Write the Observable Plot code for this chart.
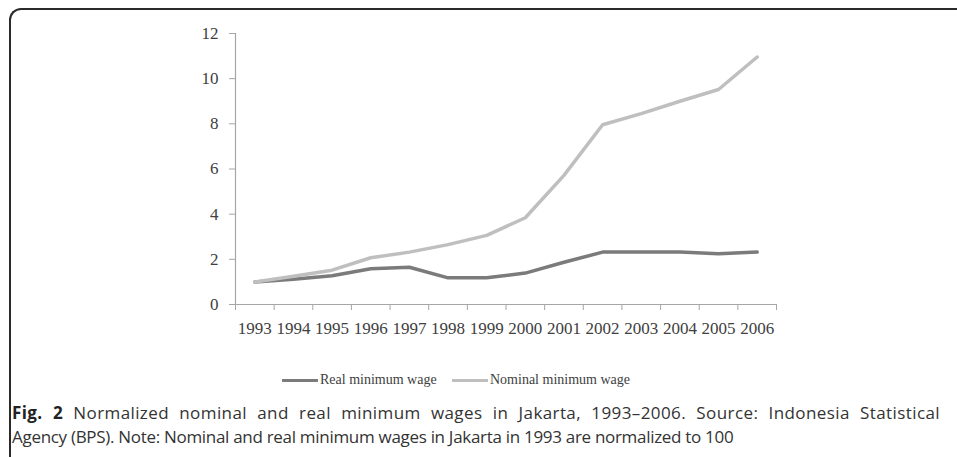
<!DOCTYPE html>
<html>
<head>
<meta charset="utf-8">
<script src="https://cdn.jsdelivr.net/npm/d3@7"></script>
<script src="https://cdn.jsdelivr.net/npm/@observablehq/plot@0.6"></script>
<style>
  html, body { margin: 0; padding: 0; background: #fff; }
  body { width: 957px; height: 457px; position: relative; overflow: hidden; }
  #frame { position: absolute; left: 9px; top: 8px; width: 980px; height: 480px;
           border-top: 2px solid #2a2a2a; border-left: 2px solid #2a2a2a; border-top-left-radius: 12px; box-sizing: border-box; }
  #chart { position: absolute; left: 0; top: 0; }
  #legend { position: absolute; top: 370px; left: 0; width: 957px; height: 20px;
            font-family: "Liberation Serif", serif; font-size: 14px; color: #404040; }
  .item { position: absolute; top: 0; display: flex; align-items: center; height: 20px; white-space: nowrap; }
  .sw { width: 36px; height: 3px; margin-right: 2px; }
  #caption { position: absolute; left: 12px; top: 401px; width: 928px;
             font-family: "Open Sans", sans-serif; font-size: 17px; line-height: 24px; color: #333; }
  #caption .l1 { display: block; text-align: justify; text-align-last: justify; white-space: nowrap; letter-spacing: 0.4px; }
  #caption .l2 { display: block; white-space: nowrap; letter-spacing: -0.3px; }
  #caption b { color: #222; }
</style>
</head>
<body>
<div id="frame"></div>
<div id="chart"></div>
<div id="legend"></div>
<div id="caption"><span class="l1"><b>Fig. 2</b> Normalized nominal and real minimum wages in Jakarta, 1993–2006. Source: Indonesia Statistical</span><span class="l2">Agency (BPS). Note: Nominal and real minimum wages in Jakarta in 1993 are normalized to 100</span></div>
<script>
const years = [1993,1994,1995,1996,1997,1998,1999,2000,2001,2002,2003,2004,2005,2006];
const realWage = [1.00,1.12,1.27,1.58,1.65,1.18,1.18,1.39,1.87,2.32,2.32,2.32,2.25,2.32];
const nominalWage = [1.00,1.25,1.52,2.07,2.32,2.65,3.06,3.84,5.72,7.96,8.45,9.00,9.52,10.96];
const yTicks = [0,2,4,6,8,10,12];
const seriesNames = ["Real minimum wage", "Nominal minimum wage"];
const seriesColors = ["#7b7b7b", "#bfbfbf"];

const rows = [];
years.forEach((y, i) => {
  rows.push({year: y, value: realWage[i], series: seriesNames[0]});
  rows.push({year: y, value: nominalWage[i], series: seriesNames[1]});
});
const boundaries = years.map(y => y - 0.5).concat([years[years.length - 1] + 0.5]);

const axisColor = "#a6a6a6";
const textColor = "#404040";

const chart = Plot.plot({
  width: 957,
  height: 350,
  marginLeft: 235,
  marginRight: 181,
  marginTop: 33,
  marginBottom: 46,
  style: {fontFamily: "Liberation Serif, serif", fontSize: "17px", color: textColor, background: "transparent"},
  x: {domain: [years[0] - 0.5, years[years.length - 1] + 0.5]},
  y: {domain: [0, 12]},
  color: {domain: seriesNames, range: seriesColors},
  marks: [
    Plot.axisY({ticks: yTicks, tickSize: 6, tickPadding: 11, stroke: axisColor, label: null, tickFormat: d => String(d), fill: textColor, fontSize: 17}),
    Plot.axisX({ticks: boundaries, tickSize: 6, tickFormat: () => "", stroke: axisColor, label: null}),
    Plot.axisX({ticks: years, tickSize: 0, tickPadding: 17, tickFormat: d => String(d), label: null, fill: textColor, fontSize: 17}),
    Plot.ruleX([years[0] - 0.5], {stroke: axisColor, strokeWidth: 1.2}),
    Plot.ruleY([0], {stroke: axisColor, strokeWidth: 1.2}),
    Plot.line(rows, {x: "year", y: "value", stroke: "series", z: "series", strokeWidth: 3.5, strokeLinecap: "round", strokeLinejoin: "round"})
  ]
});
document.getElementById("chart").appendChild(chart);

const legend = document.getElementById("legend");
const legendX = [282, 452];
seriesNames.forEach((name, i) => {
  const item = document.createElement("div");
  item.className = "item";
  item.style.left = legendX[i] + "px";
  const sw = document.createElement("div");
  sw.className = "sw";
  sw.style.background = seriesColors[i];
  const t = document.createElement("span");
  t.textContent = name;
  item.appendChild(sw);
  item.appendChild(t);
  legend.appendChild(item);
});
</script>
</body>
</html>
